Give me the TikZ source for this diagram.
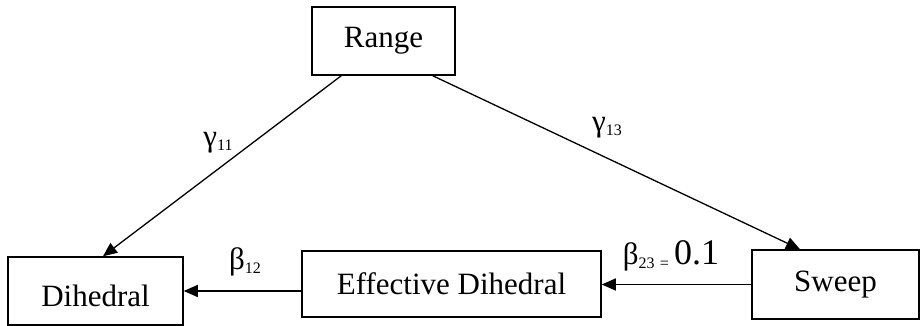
\documentclass[tikz,border=0pt]{standalone}
\usepackage{fontspec}
\setmainfont{Liberation Serif}
\usetikzlibrary{arrows.meta}

\newcommand{\lowidx}[1]{\raisebox{-0.25ex}{\fontsize{8}{8}\selectfont #1}}
\tikzset{
	varbox/.style={draw,line width=0.75pt,inner sep=0pt,font=\fontsize{15.5}{18}\selectfont},
	path/.style={line width=0.65pt,-{Triangle[length=7pt,width=6pt]}},
	coef/.style={font=\fontsize{15.5}{18}\selectfont,inner sep=0pt}
}

\begin{document}
\begin{tikzpicture}[x=0.5pt,y=-0.5pt]
	\useasboundingbox (0,0) rectangle (921,326);
	\node [varbox,minimum width=71.5pt,minimum height=34pt] (range) at (383.5,41) {Range};
	\node [varbox,minimum width=87.5pt,minimum height=34pt,text height=15.5pt,text depth=0pt] (dihedral) at (95.5,291) {Dihedral};
	\node [varbox,minimum width=149.5pt,minimum height=33pt] (effective) at (451.5,284) {Effective Dihedral};
	\node [varbox,minimum width=83.5pt,minimum height=34.5pt] (sweep) at (835.5,284.5) {Sweep};
	\draw [path] ([xshift=15pt]range.south west) -- ([xshift=3.75pt]dihedral.north);
	\draw [path] ([xshift=-11.5pt]range.south east) -- ([xshift=-17.75pt]sweep.north);
	\draw [path] (effective.west |- dihedral.east) -- (dihedral.east);
	\draw [path] (sweep.west) -- (sweep.west -| effective.east);
	\node [coef] (c11) at (218,143) {γ\lowidx{11}};
	\node [coef] (c13) at (607,128) {γ\lowidx{13}};
	\node [coef] (c12) at (245,262) {β\lowidx{12}};
	\node [coef] (c23) at (671,256) {β\lowidx{23}\,\lowidx{=}\,{\fontsize{18}{20}\selectfont 0.1}};
\end{tikzpicture}
\end{document}
